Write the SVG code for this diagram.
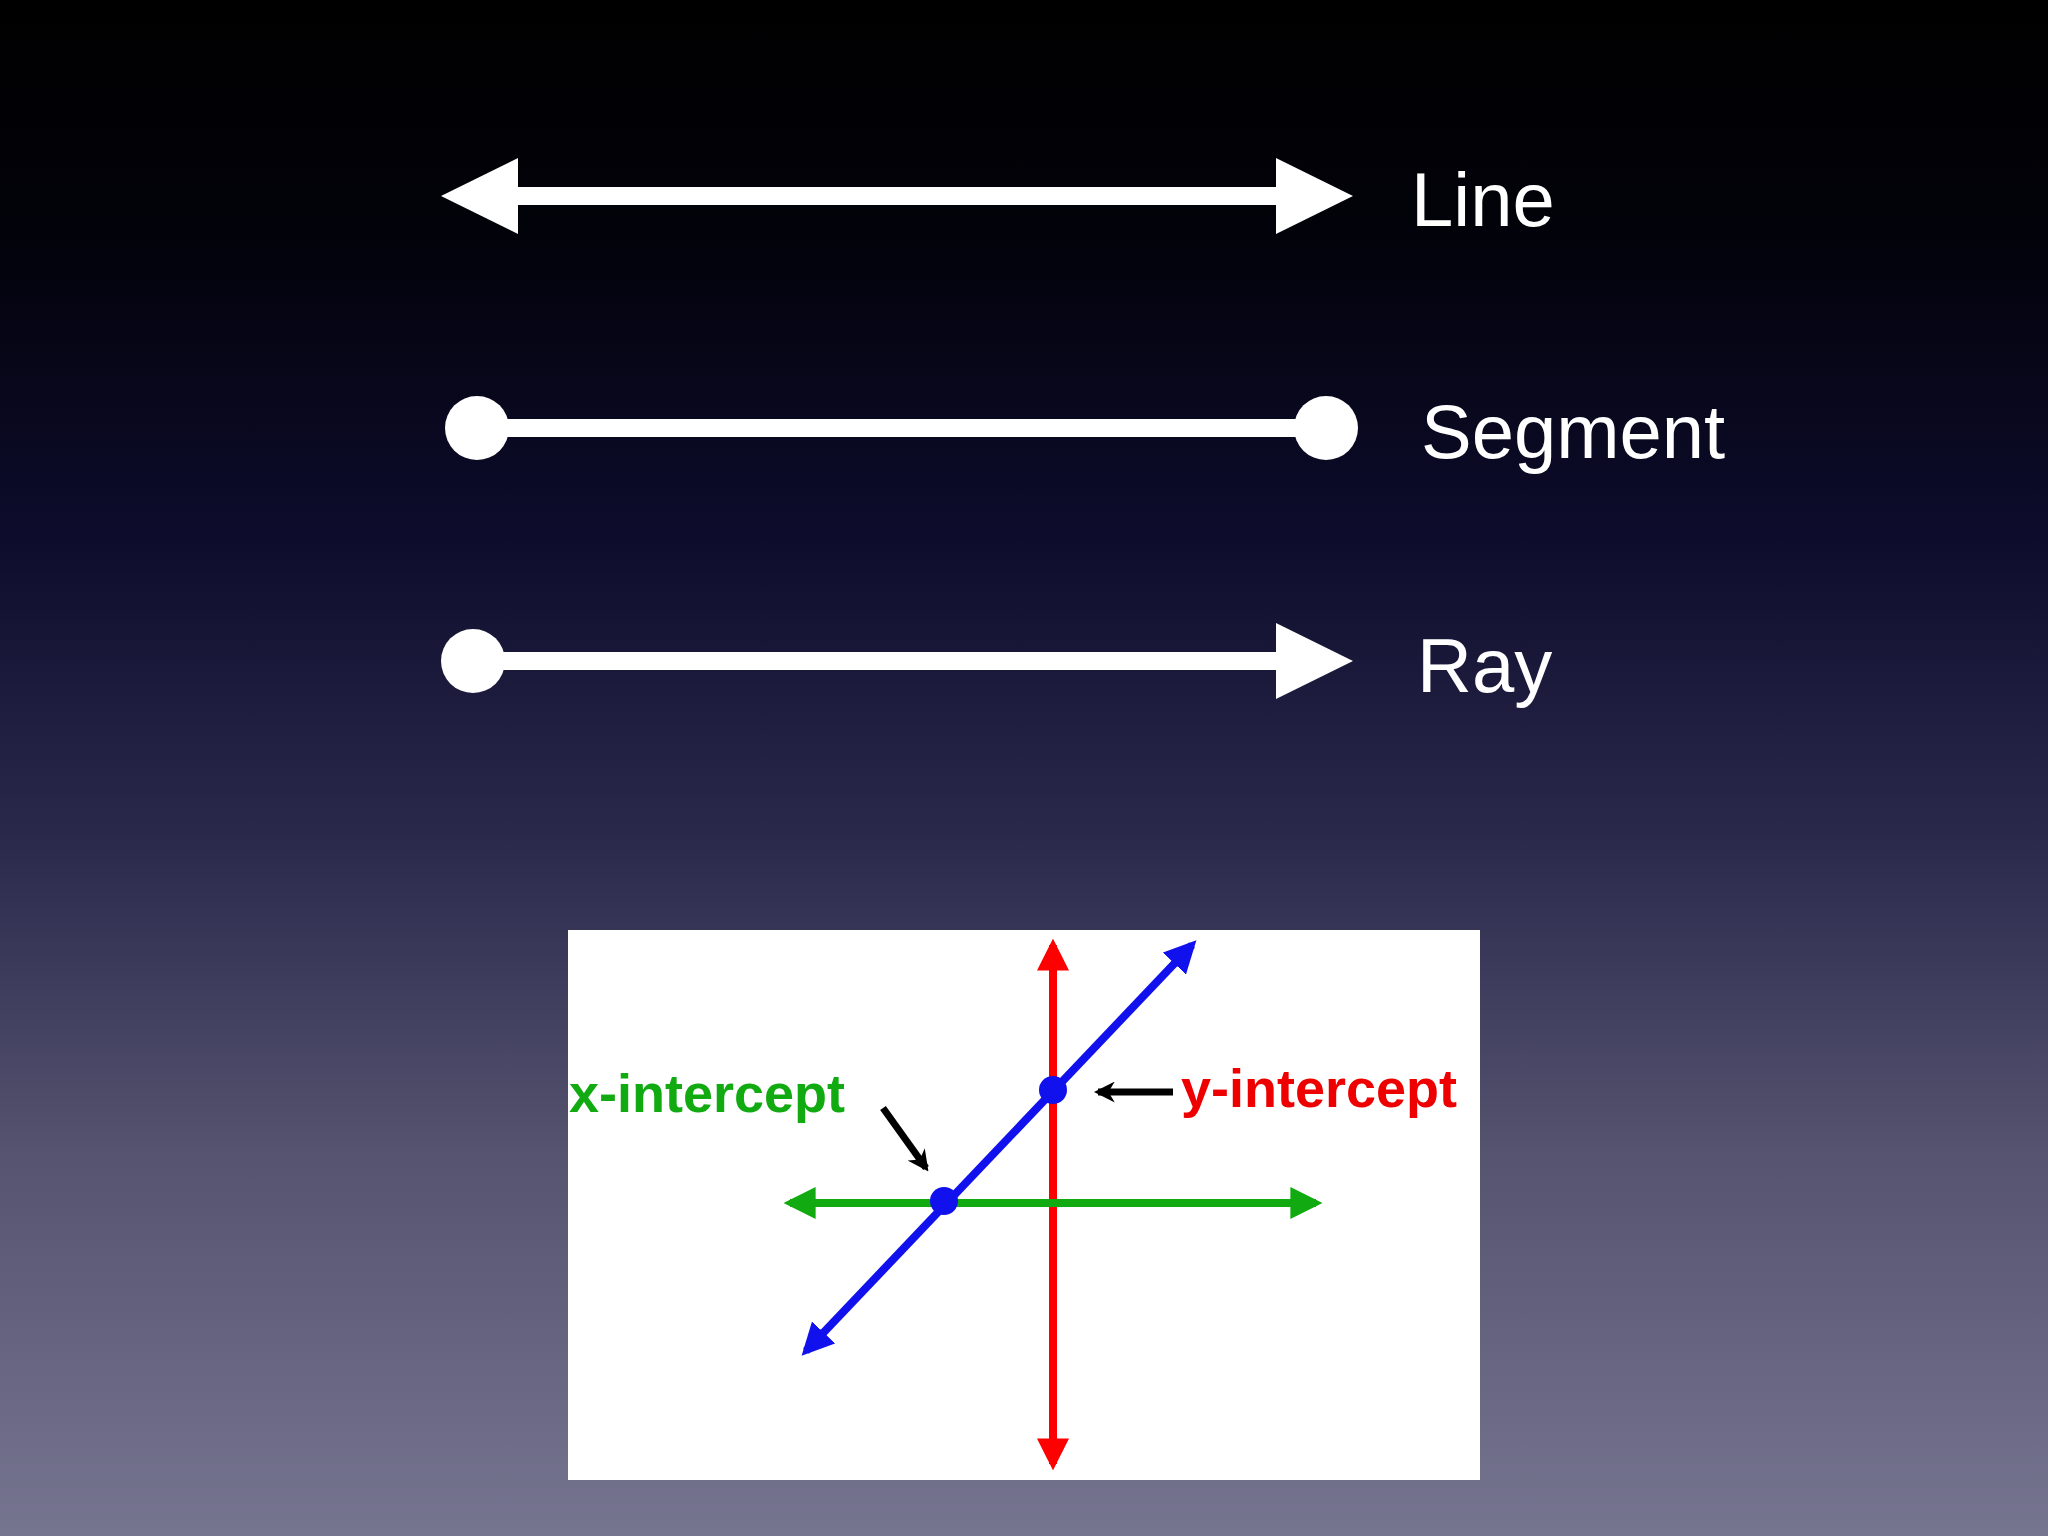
<svg xmlns="http://www.w3.org/2000/svg" width="2048" height="1536" viewBox="0 0 2048 1536">
<defs>
<linearGradient id="bg" x1="0" y1="0" x2="0" y2="1">
<stop offset="0" stop-color="#000000"/>
<stop offset="0.15" stop-color="#02020a"/>
<stop offset="0.35" stop-color="#0d0c2c"/>
<stop offset="0.55" stop-color="#2b2a4d"/>
<stop offset="0.75" stop-color="#55536f"/>
<stop offset="1" stop-color="#767590"/>
</linearGradient>
<marker id="ah" viewBox="0 0 10 10" refX="8" refY="5" markerWidth="4" markerHeight="4" orient="auto-start-reverse"><path d="M0,0 L10,5 L0,10 z" fill="context-stroke"/></marker>
<marker id="bh" viewBox="0 0 10 10" refX="8" refY="5" markerWidth="3" markerHeight="3" orient="auto"><path d="M0,0 L10,5 L0,10 L3,5 z" fill="#000"/></marker>
</defs>
<style>
.lbl{font-family:"Liberation Sans",Arial,sans-serif;font-size:76px;fill:#fff}
.w{stroke:#fff;stroke-width:18}
.it{font-family:"Liberation Sans",Arial,sans-serif;font-size:54px;font-weight:bold}
</style>
<rect width="2048" height="1536" fill="url(#bg)"/>
<g id="line">
<line class="w" x1="510" y1="196" x2="1285" y2="196"/>
<polygon points="441,196 518,158 518,234" fill="#fff"/>
<polygon points="1353,196 1276,158 1276,234" fill="#fff"/>
<text class="lbl" x="1411" y="226">Line</text>
</g>
<g id="segment">
<line class="w" x1="477" y1="428" x2="1326" y2="428"/>
<circle cx="477" cy="428" r="32" fill="#fff"/>
<circle cx="1326" cy="428" r="32" fill="#fff"/>
<text class="lbl" x="1421" y="458">Segment</text>
</g>
<g id="ray">
<line class="w" x1="473" y1="661" x2="1285" y2="661"/>
<circle cx="473" cy="661" r="32" fill="#fff"/>
<polygon points="1353,661 1276,623 1276,699" fill="#fff"/>
<text class="lbl" x="1417" y="692">Ray</text>
</g>
<g id="graph">
<rect x="568" y="930" width="912" height="550" fill="#fff"/>
<line x1="1053" y1="945" x2="1053" y2="1464" stroke="#f00" stroke-width="8" marker-start="url(#ah)" marker-end="url(#ah)"/>
<line x1="790" y1="1203" x2="1316" y2="1203" stroke="#1a1" stroke-width="8" marker-start="url(#ah)" marker-end="url(#ah)"/>
<line x1="806" y1="1351" x2="1192" y2="945" stroke="#11e" stroke-width="8" marker-start="url(#ah)" marker-end="url(#ah)"/>
<circle cx="944" cy="1201" r="14" fill="#11e"/>
<circle cx="1053" cy="1090" r="14" fill="#11e"/>
<text class="it" x="569" y="1112" fill="#1a1">x-intercept</text>
<text class="it" x="1181" y="1107" fill="#e00">y-intercept</text>
<line x1="883" y1="1108" x2="926" y2="1168" stroke="#000" stroke-width="7" marker-end="url(#bh)"/>
<line x1="1173" y1="1092" x2="1098" y2="1092" stroke="#000" stroke-width="7" marker-end="url(#bh)"/>
</g>
</svg>
